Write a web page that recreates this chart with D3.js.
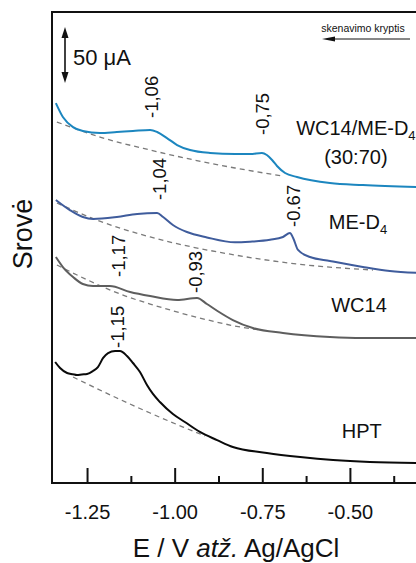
<!DOCTYPE html>
<html>
<head>
<meta charset="utf-8">
<script src="https://cdn.jsdelivr.net/npm/d3@7"></script>
<style>
    body { margin: 0; background: #fff; }
    text { font-family: "Liberation Sans", Arial, sans-serif; fill: #111; }
</style>
</head>
<body>
<div id="chart"></div>
<script>
// potential (V vs Ag/AgCl) and current (uA, curves offset for display)
const cyanV = [-1.339, -1.319, -1.290, -1.262, -1.213, -1.165, -1.119, -1.070, -1.050, -1.022, -0.993, -0.956, -0.899, -0.828, -0.785, -0.751, -0.737, -0.722, -0.708, -0.685, -0.651, -0.557, -0.463, -0.306]
const cyanI = [338.8, 326.4, 317.4, 313.9, 312.1, 313.0, 313.9, 314.8, 313.0, 307.6, 301.4, 296.9, 294.3, 293.4, 293.4, 294.3, 292.5, 288.0, 282.7, 276.4, 272.9, 267.5, 265.7, 263.9]
const cyanBaseV = [-1.336, -1.213, -1.070, -0.828, -0.691]
const cyanBaseI = [321.9, 308.5, 296.9, 280.9, 273.7]

const blueV = [-1.339, -1.299, -1.262, -1.233, -1.165, -1.107, -1.050, -1.033, -1.005, -0.965, -0.908, -0.828, -0.785, -0.728, -0.691, -0.671, -0.662, -0.648, -0.614, -0.557, -0.463, -0.386, -0.306]
const blueI = [252.4, 243.4, 237.2, 235.4, 237.2, 239.9, 240.8, 237.2, 230.1, 223.8, 219.0, 214.6, 215.2, 216.9, 219.4, 222.9, 218.5, 207.8, 201.5, 198.0, 192.6, 189.0, 187.3]
const blueBaseV = [-1.336, -1.222, -1.070, -0.828, -0.651, -0.434]
const blueBaseI = [249.7, 234.5, 219.4, 203.3, 195.3, 189.9]

const grayV = [-1.339, -1.319, -1.290, -1.262, -1.233, -1.185, -1.127, -1.070, -0.993, -0.936, -0.908, -0.879, -0.834, -0.777, -0.691, -0.557, -0.463, -0.306]
const grayI = [201.5, 192.6, 183.7, 177.4, 175.7, 175.7, 170.3, 166.7, 163.2, 165.0, 159.6, 153.6, 145.3, 138.2, 133.8, 130.2, 129.3, 129.3]
const grayBaseV = [-1.336, -1.242, -1.140, -1.070, -0.928, -0.828, -0.757]
const grayBaseI = [194.4, 180.1, 166.7, 159.6, 147.1, 140.0, 136.4]

const blackV = [-1.341, -1.327, -1.307, -1.290, -1.279, -1.265, -1.250, -1.233, -1.219, -1.204, -1.190, -1.170, -1.156, -1.136, -1.119, -1.099, -1.079, -1.062, -1.042, -1.005, -0.971, -0.928, -0.879, -0.834, -0.737, -0.642, -0.548, -0.443, -0.306]
const blackI = [107.9, 102.5, 98.1, 97.0, 96.3, 96.8, 97.2, 99.9, 103.4, 111.5, 115.9, 117.7, 117.7, 113.2, 107.0, 99.0, 87.4, 79.4, 72.2, 61.5, 54.4, 45.5, 38.3, 32.1, 26.8, 23.2, 20.5, 18.7, 17.8]
const blackBaseV = [-1.290, -1.165, -1.070, -0.976, -0.913]
const blackBaseI = [94.5, 75.8, 62.4, 49.9, 41.9]

// peak labels: text, where it sits (V) and the current at its lower end
const peakText = ["-1,06", "-0,75", "-1,04", "-0.67", "-1,17", "-0,93", "-1,15"]
const peakAtV = [-1.066, -0.750, -1.043, -0.661, -1.160, -0.940, -1.165]
const peakAtI = [325.5, 310.3, 252.3, 228.3, 183.7, 169.4, 120.4]

const xTicks = [-1.25, -1.00, -0.75, -0.50]
const xMinorTicks = [-1.125, -0.875, -0.625, -0.375]

const series = [
    { v: cyanV, i: cyanI, bv: cyanBaseV, bi: cyanBaseI, color: "#1c86bf" },
    { v: blueV, i: blueI, bv: blueBaseV, bi: blueBaseI, color: "#3f5c9c" },
    { v: grayV, i: grayI, bv: grayBaseV, bi: grayBaseI, color: "#5e5e5e" },
    { v: blackV, i: blackI, bv: blackBaseV, bi: blackBaseI, color: "#0a0a0a" },
]

const dimensions = {
    width: 416,
    height: 563,
    margin: { top: 12, right: -4, bottom: 80, left: 52 },
}
dimensions.boundedWidth = dimensions.width - dimensions.margin.left - dimensions.margin.right
dimensions.boundedHeight = dimensions.height - dimensions.margin.top - dimensions.margin.bottom

const wrapper = d3.select("#chart")
    .append("svg")
    .attr("width", dimensions.width)
    .attr("height", dimensions.height)

const bounds = wrapper.append("g")
    .attr("transform", `translate(${dimensions.margin.left},${dimensions.margin.top})`)

const xScale = d3.scaleLinear()
    .domain([-1.35, -0.30])
    .range([0, dimensions.boundedWidth])

const yScale = d3.scaleLinear()
    .domain([0, 420])
    .range([dimensions.boundedHeight, 0])

const lineGenerator = d3.line()
    .x(d => xScale(d[0]))
    .y(d => yScale(d[1]))
    .curve(d3.curveMonotoneX)

// dashed baselines first, curves on top
series.forEach(s => {
    bounds.append("path")
        .attr("d", lineGenerator(d3.zip(s.bv, s.bi)))
        .attr("fill", "none")
        .attr("stroke", "#7a7a7a")
        .attr("stroke-width", 1.3)
        .attr("stroke-dasharray", "5,4")
})
series.forEach(s => {
    bounds.append("path")
        .attr("d", lineGenerator(d3.zip(s.v, s.i)))
        .attr("fill", "none")
        .attr("stroke", s.color)
        .attr("stroke-width", 2)
        .attr("stroke-linejoin", "round")
})

// peak labels
peakText.forEach((t, k) => {
    bounds.append("text")
        .attr("transform", `translate(${xScale(peakAtV[k])},${yScale(peakAtI[k])}) rotate(-90)`)
        .attr("dy", "0.36em")
        .attr("font-size", 18.5)
        .text(t)
})

// series names
const nameSize = 20
function seriesName(txt, sub, v, i) {
    const t = bounds.append("text")
        .attr("x", xScale(v))
        .attr("y", yScale(i))
        .attr("text-anchor", "middle")
        .attr("font-size", nameSize)
    t.append("tspan").text(txt)
    if (sub) {
        t.append("tspan").attr("dy", 5).attr("font-size", 13).text(sub)
    }
}
seriesName("WC14/ME-D", "4", -0.483, 310.3)
seriesName("(30:70)", null, -0.483, 284.4)
seriesName("ME-D", "4", -0.477, 226.5)
seriesName("WC14", null, -0.474, 152.3)
seriesName("HPT", null, -0.466, 40.1)

// frame
bounds.append("rect")
    .attr("width", dimensions.boundedWidth)
    .attr("height", dimensions.boundedHeight)
    .attr("fill", "none")
    .attr("stroke", "#111")
    .attr("stroke-width", 2)

const xAxisGenerator = d3.axisBottom(xScale)
    .tickValues(xTicks)
    .tickSizeInner(-15)
    .tickSizeOuter(0)
    .tickPadding(22)
    .tickFormat(d3.format(".2f"))

const xAxis = bounds.append("g")
    .attr("transform", `translate(0,${dimensions.boundedHeight})`)
    .call(xAxisGenerator)
xAxis.select(".domain").remove()
xAxis.selectAll(".tick line").attr("stroke", "#111").attr("stroke-width", 2)
xAxis.selectAll(".tick text")
    .attr("font-size", 20)
    .attr("font-family", "Liberation Sans, Arial, sans-serif")
    .attr("fill", "#111")
    .text(d => d3.format(".2f")(d).replace("−", "-"))

const xMinor = bounds.append("g")
    .attr("transform", `translate(0,${dimensions.boundedHeight})`)
    .call(d3.axisBottom(xScale).tickValues(xMinorTicks).tickSizeInner(-7).tickSizeOuter(0).tickFormat(""))
xMinor.select(".domain").remove()
xMinor.selectAll(".tick line").attr("stroke", "#111").attr("stroke-width", 2)

// axis titles
const xTitle = wrapper.append("text")
    .attr("x", 236)
    .attr("y", 557)
    .attr("text-anchor", "middle")
    .attr("font-size", 26)
xTitle.append("tspan").text("E / V ")
xTitle.append("tspan").attr("font-style", "italic").text("atž.")
xTitle.append("tspan").text(" Ag/AgCl")

wrapper.append("text")
    .attr("transform", "translate(32,234) rotate(-90)")
    .attr("text-anchor", "middle")
    .attr("font-size", 27)
    .text("Srovė")

// 50 uA scale bar
const barTop = 406.6
const barX = 65 - dimensions.margin.left
const arrowY1 = yScale(barTop)
const arrowY2 = yScale(barTop - 50)
bounds.append("line")
    .attr("x1", barX).attr("x2", barX)
    .attr("y1", arrowY1 + 6).attr("y2", arrowY2 - 6)
    .attr("stroke", "#111").attr("stroke-width", 1.6)
bounds.append("path")
    .attr("d", `M${barX},${arrowY1} L${barX - 3.5},${arrowY1 + 11} L${barX + 3.5},${arrowY1 + 11} Z`)
    .attr("fill", "#111")
bounds.append("path")
    .attr("d", `M${barX},${arrowY2} L${barX - 3.5},${arrowY2 - 11} L${barX + 3.5},${arrowY2 - 11} Z`)
    .attr("fill", "#111")
bounds.append("text")
    .attr("x", barX + 8)
    .attr("y", arrowY1 + 38)
    .attr("font-size", 22)
    .text("50 μA")

// scan direction
wrapper.append("text")
    .attr("x", 363)
    .attr("y", 32)
    .attr("text-anchor", "middle")
    .attr("font-size", 10.5)
    .text("skenavimo kryptis")
wrapper.append("line")
    .attr("x1", 330).attr("x2", 410)
    .attr("y1", 39).attr("y2", 39)
    .attr("stroke", "#111").attr("stroke-width", 1)
wrapper.append("path")
    .attr("d", "M322,39 L335,36.5 L335,41.5 Z")
    .attr("fill", "#111")
</script>
</body>
</html>
